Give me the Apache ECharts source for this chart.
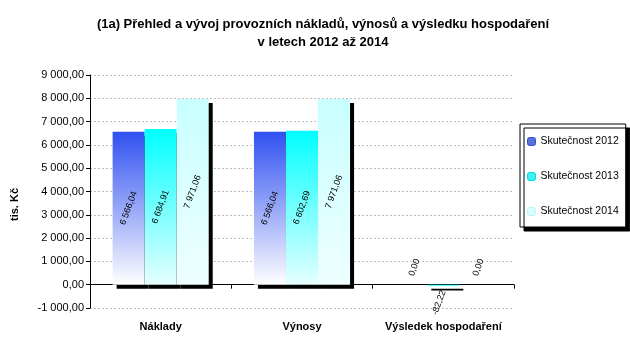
<!DOCTYPE html>
<html>
<head>
<meta charset="utf-8">
<script src="https://cdn.jsdelivr.net/npm/echarts@6/dist/echarts.min.js"></script>
<style>
html, body { margin: 0; padding: 0; background: #fff; }
#container { width: 630px; height: 353px; }
</style>
</head>
<body>
<div id="container"></div>
<script>
var categories = ['Náklady', 'Výnosy', 'Výsledek hospodaření'];
var seriesNames = ['Skutečnost 2012', 'Skutečnost 2013', 'Skutečnost 2014'];
var values2012 = [6566.04, 6566.04, 0.00];
var values2013 = [6684.91, 6602.69, -82.22];
var values2014 = [7971.06, 7971.06, 0.00];
var yTicks = [-1000, 0, 1000, 2000, 3000, 4000, 5000, 6000, 7000, 8000, 9000];

var dom = document.getElementById('container');
var myChart = echarts.init(dom);

function fmt(v) {
    var neg = v < 0;
    var s = Math.abs(v).toFixed(2).split('.');
    var intPart = s[0].replace(/\B(?=(\d{3})+(?!\d))/g, ' ');
    return (neg ? '-' : '') + intPart + ',' + s[1];
}

var fills = [
    new echarts.graphic.LinearGradient(0, 0, 0, 1, [
        {offset: 0, color: '#3050f0'}, {offset: 1, color: '#ffffff'}
    ]),
    new echarts.graphic.LinearGradient(0, 0, 0, 1, [
        {offset: 0, color: '#00ffff'}, {offset: 1, color: '#e6ffff'}
    ]),
    new echarts.graphic.LinearGradient(0, 0, 0, 1, [
        {offset: 0, color: '#c8ffff'}, {offset: 1, color: '#eeffff'}
    ])
];
var edges = ['#3050d0', '#00d8d8', '#c0f4f4'];
var legendColors = ['#5a70d8', '#40f0f0', '#d8ffff'];

function makeData(arr) {
    return arr.map(function (v, i) {
        if (i < 2) return v;
        return {
            value: v,
            label: v < 0 ?
                {position: 'bottom', distance: 4, align: 'right', verticalAlign: 'middle'} :
                {position: 'top', distance: 9, align: 'left', verticalAlign: 'middle'}
        };
    });
}

var allValues = [values2012, values2013, values2014];
var series = allValues.map(function (arr, k) {
    return {
        name: seriesNames[k],
        type: 'bar',
        barGap: '0%',
        barCategoryGap: '32%',
        data: makeData(arr),
        itemStyle: {
            color: fills[k],
            borderWidth: 0,
            shadowColor: '#000',
            shadowOffsetX: 4,
            shadowOffsetY: 4,
            shadowBlur: 0
        },
        label: {
            show: true,
            position: 'inside',
            rotate: 70,
            formatter: function (p) { return fmt(p.value); },
            fontFamily: 'Liberation Sans',
            fontSize: 9,
            color: '#000'
        }
    };
});

option = {
    animation: false,
    backgroundColor: '#fff',
    title: {
        text: '(1a) Přehled a vývoj provozních nákladů, výnosů a výsledku hospodaření\nv letech 2012 až 2014',
        left: 318,
        textAlign: 'center',
        top: 10,
        textStyle: {
            fontFamily: 'Liberation Sans',
            fontSize: 13,
            fontWeight: 'bold',
            color: '#000',
            lineHeight: 18
        }
    },
    legend: {
        data: seriesNames.map(function (n, k) {
            return {name: n, itemStyle: {color: legendColors[k], borderColor: edges[k], borderWidth: 1}};
        }),
        orient: 'vertical',
        left: 520,
        top: 124,
        padding: [12, 7, 10, 7],
        itemGap: 24,
        itemWidth: 8,
        itemHeight: 8,
        borderColor: '#000',
        borderWidth: 1,
        backgroundColor: '#fff',
        shadowColor: '#000',
        shadowOffsetX: 4,
        shadowOffsetY: 4,
        shadowBlur: 0,
        textStyle: {fontFamily: 'Liberation Sans', fontSize: 10.5, color: '#000'}
    },
    grid: {left: 90, right: 116, top: 75, bottom: 45, containLabel: false},
    xAxis: {
        type: 'category',
        data: categories,
        axisLine: {onZero: true, lineStyle: {color: '#000', width: 1}},
        axisTick: {show: true, lineStyle: {color: '#000'}, length: 4},
        axisLabel: {
            interval: 0,
            fontFamily: 'Liberation Sans',
            fontSize: 11,
            fontWeight: 'bold',
            color: '#000',
            margin: 13
        }
    },
    yAxis: {
        type: 'value',
        min: yTicks[0],
        max: yTicks[yTicks.length - 1],
        interval: 1000,
        name: 'tis. Kč',
        nameLocation: 'middle',
        nameRotate: 90,
        nameGap: 70,
        nameTextStyle: {fontFamily: 'Liberation Sans', fontSize: 11, fontWeight: 'bold', color: '#000', padding: [0, 26, 0, 0]},
        axisLine: {show: true, lineStyle: {color: '#000'}},
        axisTick: {show: true, inside: false, length: 4, lineStyle: {color: '#000'}},
        axisLabel: {
            fontFamily: 'Liberation Sans',
            fontSize: 11,
            color: '#000',
            margin: 6,
            formatter: function (v) { return fmt(v); }
        },
        splitLine: {show: true, lineStyle: {color: '#bdbdbd', type: [2, 2]}}
    },
    series: series
};

myChart.setOption(option, true);
window.onresize = function () {
    myChart.resize();
};
</script>
</body>
</html>
